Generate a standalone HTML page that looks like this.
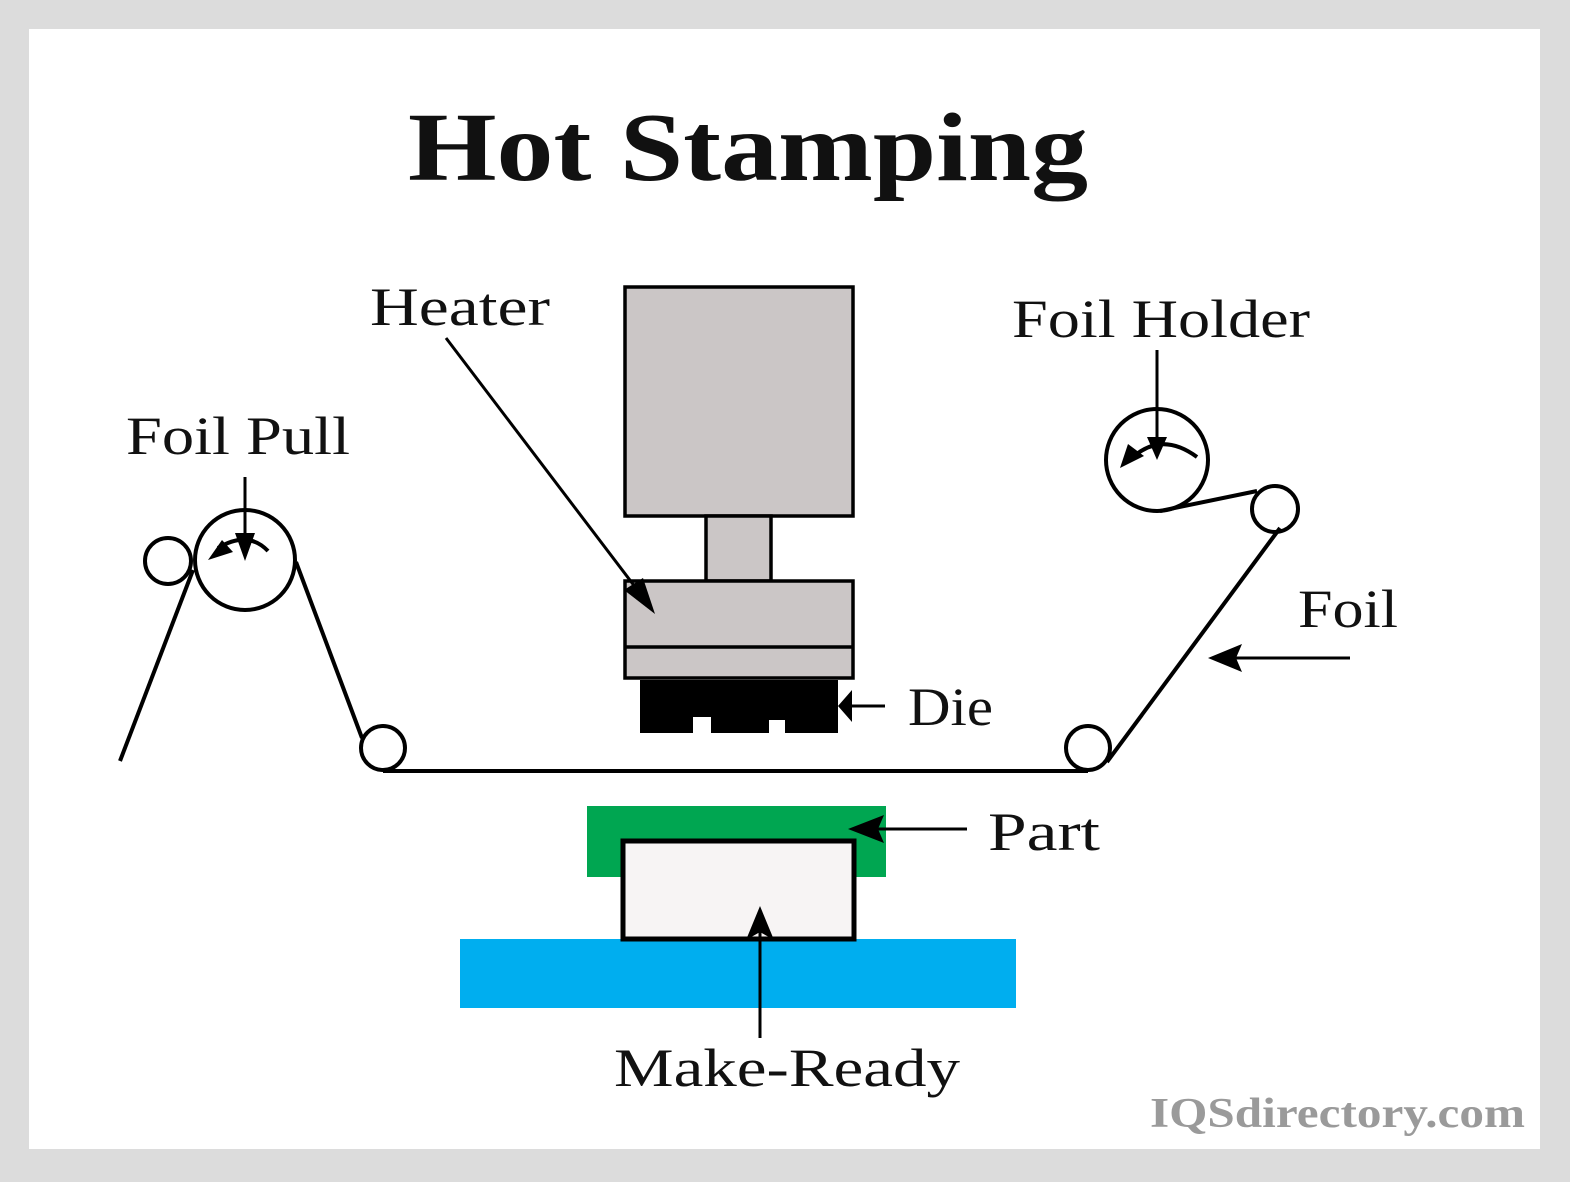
<!DOCTYPE html>
<html><head><style>
html,body{margin:0;padding:0;background:#fff}
svg{display:block}
text{font-family:"Liberation Serif","DejaVu Serif",serif}
</style></head><body>
<svg width="1570" height="1182" viewBox="0 0 1570 1182" xmlns="http://www.w3.org/2000/svg">
<rect x="0" y="0" width="1570" height="1182" fill="#dcdcdc"/>
<rect x="29" y="29" width="1511" height="1120" fill="#fff"/>
<text x="408" y="180" font-size="98" font-weight="bold" fill="#111" textLength="680" lengthAdjust="spacingAndGlyphs">Hot Stamping</text>

<!-- press -->
<rect x="625" y="287" width="228" height="229" fill="#cbc6c6" stroke="#000" stroke-width="3.5"/>
<rect x="706" y="516" width="65" height="65" fill="#cbc6c6" stroke="#000" stroke-width="3.5"/>
<rect x="625" y="581" width="228" height="97" fill="#cbc6c6" stroke="#000" stroke-width="3.5"/>
<line x1="625" y1="647" x2="853" y2="647" stroke="#000" stroke-width="3.5"/>
<path d="M640 680 H838 V733 H785 V720 H769 V733 H711 V717 H693 V733 H640 Z" fill="#000"/>

<!-- foil path -->
<g fill="none" stroke="#000" stroke-width="4">
<circle cx="168" cy="561" r="23" fill="#fff"/>
<circle cx="245" cy="560" r="50"/>
<circle cx="383" cy="748" r="22"/>
<circle cx="1088" cy="748" r="22"/>
<circle cx="1157" cy="460" r="51"/>
<circle cx="1275" cy="509" r="23"/>
<line x1="193" y1="570" x2="120" y2="761"/>
<line x1="296" y1="562" x2="362" y2="738"/>
<line x1="383" y1="771" x2="1088" y2="771"/>
<line x1="1107" y1="762" x2="1280" y2="528"/>
<line x1="1160" y1="511" x2="1257" y2="491"/>
<path d="M218 548 Q248 530 268 551"/>
<path d="M1130 460 Q1160 430 1197 457"/>
</g>
<line x1="245" y1="477" x2="245" y2="545" stroke="#000" stroke-width="3"/>
<polygon points="235,533 255,533 245,561" fill="#000"/>
<polygon points="208,560 222,540 233,552" fill="#000"/>
<line x1="1157" y1="350" x2="1157" y2="445" stroke="#000" stroke-width="3"/>
<polygon points="1147,437 1167,437 1157,460" fill="#000"/>
<polygon points="1120,468 1128,444 1144,456" fill="#000"/>

<rect x="587" y="806" width="299" height="71" fill="#00a651"/>
<rect x="460" y="939" width="556" height="69" fill="#00aeef"/>
<rect x="623" y="841" width="231" height="98" fill="#f7f4f4" stroke="#000" stroke-width="5"/>

<g stroke="#000" stroke-width="3">
<line x1="446" y1="338" x2="645" y2="600"/>
<line x1="885" y1="706" x2="850" y2="706"/>
<line x1="1350" y1="658" x2="1225" y2="658"/>
<line x1="967" y1="829" x2="870" y2="829"/>
<line x1="760" y1="1038" x2="760" y2="925"/>
</g>
<polygon points="655,614 624,590 643,578" fill="#000"/>
<polygon points="838,706 852,690 852,722" fill="#000"/>
<polygon points="1208,658 1242,644 1236,658 1242,672" fill="#000"/>
<polygon points="848,829 884,815 878,829 884,843" fill="#000"/>
<polygon points="760,906 746,940 760,932 774,940" fill="#000"/>

<g font-size="54" fill="#111">
<text x="370" y="325" textLength="180" lengthAdjust="spacingAndGlyphs">Heater</text>
<text x="126" y="454" textLength="224" lengthAdjust="spacingAndGlyphs">Foil Pull</text>
<text x="1012" y="337" textLength="298" lengthAdjust="spacingAndGlyphs">Foil Holder</text>
<text x="1298" y="627" textLength="100" lengthAdjust="spacingAndGlyphs">Foil</text>
<text x="908" y="725" textLength="85" lengthAdjust="spacingAndGlyphs">Die</text>
<text x="988" y="850" textLength="112" lengthAdjust="spacingAndGlyphs">Part</text>
<text x="614" y="1086" textLength="346" lengthAdjust="spacingAndGlyphs">Make-Ready</text>
</g>
<text x="1150" y="1127" font-size="42" font-weight="bold" fill="#9a9a9a" textLength="375" lengthAdjust="spacingAndGlyphs">IQSdirectory.com</text>
</svg>
</body></html>
